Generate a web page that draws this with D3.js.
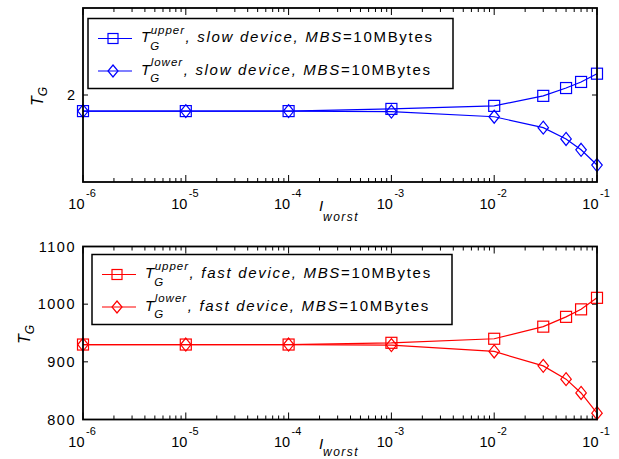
<!DOCTYPE html>
<html>
<head>
<meta charset="utf-8">
<script src="https://cdn.jsdelivr.net/npm/d3@7"></script>
<style>
  body { margin: 0; background: #fff; }
  text { font-family: "Liberation Sans", Arial, sans-serif; fill: #000; }
</style>
</head>
<body>
<div id="chart"></div>
<script>
// data
const lossRates = [1e-6, 1e-5, 1e-4, 1e-3, 1e-2, 0.03, 0.05, 0.07, 0.1]
const slowUpper = [1.963, 1.963, 1.963, 1.968, 1.975, 1.998, 2.016, 2.030, 2.049]
const slowLower = [1.963, 1.963, 1.963, 1.962, 1.950, 1.925, 1.899, 1.874, 1.839]
const fastUpper = [930, 930, 930, 933, 940, 961, 978, 991, 1011]
const fastLower = [930, 930, 930, 929, 918, 893, 870, 846, 811]
const xTickExps = [-6, -5, -4, -3, -2, -1]
const slowTicks = [2]
const fastTicks = [800, 900, 1000, 1100]

const width = 619,
  height = 459,
  left = 83,
  right = 597

const svg = d3.select('#chart')
  .append('svg')
  .attr('width', width)
  .attr('height', height)

const x = d3.scaleLog()
  .domain([1e-6, 1e-1])
  .range([left, right])

const panels = [
  { top: 8, bottom: 182, domain: [1.8, 2.2], ticks: slowTicks, color: '#0000ff',
    upper: slowUpper, lower: slowLower, device: 'slow',
    legend: { x: 88, y: 18.5, w: 365, h: 70 }, labelX: 43, tickSpacing: 1, subY: 39 },
  { top: 246.5, bottom: 419.5, domain: [800, 1100], ticks: fastTicks, color: '#ff0000',
    upper: fastUpper, lower: fastLower, device: 'fast',
    legend: { x: 92, y: 254.5, w: 360, h: 70 }, labelX: 30, tickSpacing: 1.5, subY: 36 }
]

const square = (g, cx, cy, s, color) => g.append('rect')
  .attr('x', cx - s / 2).attr('y', cy - s / 2)
  .attr('width', s).attr('height', s)
  .attr('fill', 'none').attr('stroke', color).attr('stroke-width', 1.2)

const diamond = (g, cx, cy, w, h, color) => g.append('path')
  .attr('d', `M${cx},${cy - h / 2}L${cx + w / 2},${cy}L${cx},${cy + h / 2}L${cx - w / 2},${cy}Z`)
  .attr('fill', 'none').attr('stroke', color).attr('stroke-width', 1.2)

// T with stacked super/subscript, then the rest of the legend text
const legendLabel = (g, x0, y0, sup, device) => {
  const t = g.append('text').attr('x', x0).attr('y', y0)
    .style('font-style', 'italic').style('font-size', '15px').text('T')
  const tw = t.node().getComputedTextLength()
  const s = g.append('text').attr('x', x0 + tw + 0.5).attr('y', y0 - 8.4)
    .style('font-style', 'italic').style('font-size', '11.5px')
    .style('letter-spacing', '1px').text(sup)
  const gsub = g.append('text').attr('x', x0 + tw).attr('y', y0 + 7.6)
    .style('font-style', 'italic').style('font-size', '11.5px').text('G')
  const nx = x0 + tw + Math.max(s.node().getComputedTextLength(), gsub.node().getComputedTextLength()) + 1
  const rest = g.append('text').attr('x', nx).attr('y', y0)
    .style('font-size', '15px').style('letter-spacing', '1.7px')
  rest.append('tspan').style('font-style', 'italic').text(`, ${device} device, MBS`)
  rest.append('tspan').text('=10MBytes')
}

panels.forEach(p => {
  const y = d3.scaleLinear().domain(p.domain).range([p.bottom, p.top])
  const g = svg.append('g')

  // minor + major x ticks on bottom and top edges
  const xTicks = []
  for (let e = -6; e < -1; e++) {
    for (let m = 1; m < 10; m++) xTicks.push(m * Math.pow(10, e))
  }
  xTicks.push(0.1)
  xTicks.forEach(v => {
    const major = Math.abs(Math.log10(v) - Math.round(Math.log10(v))) < 1e-9
    const len = major ? 7 : 4
    g.append('line').attr('x1', x(v)).attr('x2', x(v))
      .attr('y1', p.bottom).attr('y2', p.bottom - len)
      .attr('stroke', '#000').attr('stroke-width', 1)
    g.append('line').attr('x1', x(v)).attr('x2', x(v))
      .attr('y1', p.top).attr('y2', p.top + len)
      .attr('stroke', '#000').attr('stroke-width', 1)
  })

  // y ticks on both sides
  p.ticks.forEach(v => {
    g.append('line').attr('x1', left).attr('x2', left + 5)
      .attr('y1', y(v)).attr('y2', y(v)).attr('stroke', '#000')
    g.append('line').attr('x1', right).attr('x2', right - 5)
      .attr('y1', y(v)).attr('y2', y(v)).attr('stroke', '#000')
    g.append('text').attr('x', left - 7).attr('y', y(v) + 5)
      .attr('text-anchor', 'end').style('font-size', '14.5px')
      .style('letter-spacing', p.tickSpacing + 'px').text(v)
  })

  // x tick labels 10^e
  xTickExps.forEach(e => {
    const xv = x(Math.pow(10, e))
    g.append('text').attr('x', xv + 1.5).attr('y', p.bottom + 27)
      .attr('text-anchor', 'end').style('font-size', '14.5px').text('10')
    g.append('text').attr('x', xv + 3).attr('y', p.bottom + 15)
      .style('font-size', '11px').text(e)
  })

  // x label
  g.append('text').attr('x', 319).attr('y', p.bottom + 29)
    .style('font-style', 'italic').style('font-size', '15px').text('I')
  g.append('text').attr('x', 323).attr('y', p.bottom + p.subY)
    .style('font-style', 'italic').style('font-size', '12px')
    .style('letter-spacing', '1.5px').text('worst')

  // y label
  const ymid = (p.top + p.bottom) / 2
  const yl = g.append('text')
    .attr('transform', `translate(${p.labelX},${ymid + 11}) rotate(-90)`)
    .style('font-style', 'italic').style('font-size', '16px')
  yl.append('tspan').text('T')
  yl.append('tspan').attr('dy', 4).style('font-size', '12px').text('G')

  // series
  const line = d3.line().x((d, i) => x(lossRates[i])).y(d => y(d))
  g.append('path').datum(p.upper).attr('d', line)
    .attr('fill', 'none').attr('stroke', p.color).attr('stroke-width', 1.2)
  g.append('path').datum(p.lower).attr('d', line)
    .attr('fill', 'none').attr('stroke', p.color).attr('stroke-width', 1.2)
  p.upper.forEach((d, i) => square(g, x(lossRates[i]), y(d), 11, p.color))
  p.lower.forEach((d, i) => diamond(g, x(lossRates[i]), y(d), 10.5, 13, p.color))

  // frame
  g.append('rect').attr('x', left).attr('y', p.top)
    .attr('width', right - left).attr('height', p.bottom - p.top)
    .attr('fill', 'none').attr('stroke', '#000').attr('stroke-width', 1.8)

  // legend
  const L = p.legend
  const lg = g.append('g')
  lg.append('rect').attr('x', L.x).attr('y', L.y).attr('width', L.w).attr('height', L.h)
    .attr('fill', '#fff').attr('stroke', '#000').attr('stroke-width', 1.5)
  const rows = [['upper', 20], ['lower', 52.5]]
  rows.forEach(([sup, dy], k) => {
    const ly = L.y + dy
    lg.append('line').attr('x1', L.x + 10).attr('x2', L.x + 44)
      .attr('y1', ly).attr('y2', ly).attr('stroke', p.color).attr('stroke-width', 1.2)
    if (k === 0) square(lg, L.x + 25, ly, 10, p.color)
    else diamond(lg, L.x + 25, ly, 10, 12, p.color)
    legendLabel(lg, L.x + 53, ly + 3.5, sup, p.device)
  })
})
</script>
</body>
</html>
